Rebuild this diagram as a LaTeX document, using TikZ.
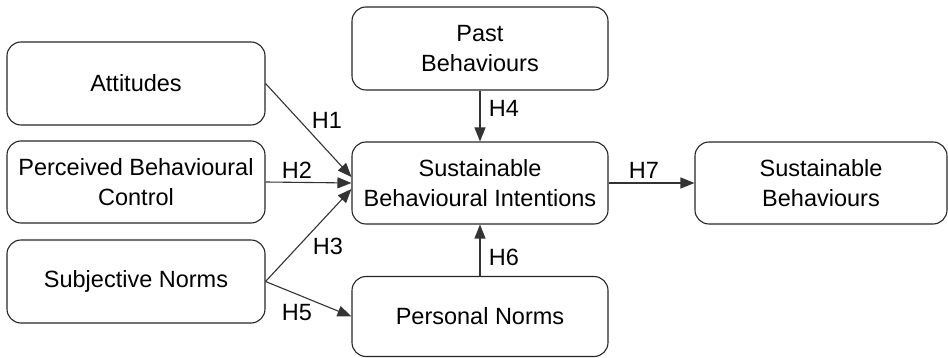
\documentclass[tikz,border=0pt]{standalone}
\usepackage{fontspec}
\setmainfont{Liberation Sans}
\usetikzlibrary{arrows.meta}
\begin{document}
\begin{tikzpicture}[x=1pt,y=-1pt,
  box/.style={draw=black!85,line width=1.1pt,rounded corners=14pt,align=center,
    inner sep=0pt,font=\fontsize{23.5}{30}\selectfont},
  lbl/.style={inner sep=0pt,font=\fontsize{23.5}{30}\selectfont},
  arr/.style={draw=black!80,line width=1.1pt,-{Triangle[length=14pt,width=11pt]}}]
\useasboundingbox (0,0) rectangle (948,358);
\node[box,minimum width=258pt,minimum height=83pt] (att) at (136,83.5) {Attitudes};
\node[box,minimum width=258pt,minimum height=82pt] (pbc) at (136,182) {Perceived Behavioural\\Control};
\node[box,minimum width=258pt,minimum height=83pt] (sn) at (136,281.5) {Subjective Norms};
\node[box,minimum width=256pt,minimum height=83pt] (past) at (480,48.5) {Past\\Behaviours};
\node[box,minimum width=256pt,minimum height=82pt] (sbi) at (480,183) {Sustainable\\Behavioural Intentions};
\node[box,minimum width=256pt,minimum height=80pt] (pn) at (480,316.5) {Personal Norms};
\node[box,minimum width=252pt,minimum height=82pt] (sb) at (821,183) {Sustainable\\Behaviours};
\draw[arr] (att.east) -- ([yshift=6pt]sbi.west);
\draw[arr] (pbc.east) -- (sbi.west);
\draw[arr] (sn.east) -- ([yshift=-6pt]sbi.west);
\draw[arr] (sn.east) -- (pn.west);
\draw[arr] (past.south) -- (sbi.north);
\draw[arr] (pn.north) -- (sbi.south);
\draw[arr] (sbi.east) -- (sb.west);
\node[lbl] (h1) at (327,120) {H1};
\node[lbl] (h2) at (297,170) {H2};
\node[lbl] (h3) at (328,246) {H3};
\node[lbl] (h4) at (504,108) {H4};
\node[lbl] (h5) at (297,313) {H5};
\node[lbl] (h6) at (504,257) {H6};
\node[lbl] (h7) at (644,170) {H7};
\end{tikzpicture}
\end{document}
